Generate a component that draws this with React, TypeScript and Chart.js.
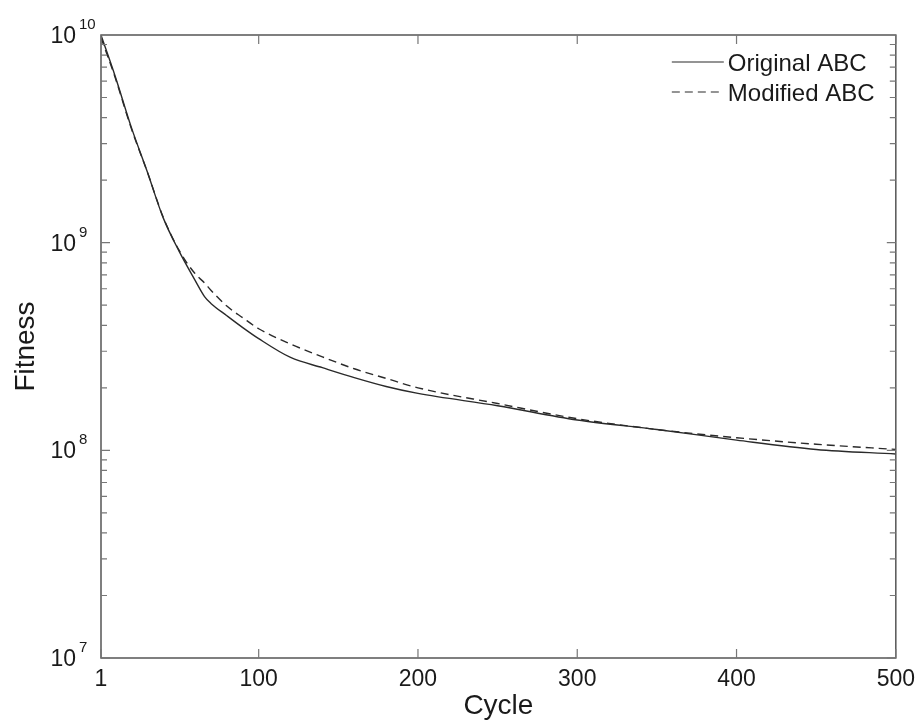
import React, { useEffect, useRef } from 'react';
import { Chart, registerables } from 'chart.js';
Chart.register(...registerables);

const CYCLES = [1, 10, 20, 30, 40, 50, 60, 66, 70, 80, 90, 100, 120, 140, 160, 180, 200, 250, 300, 350, 400, 450, 500];
const ORIGINAL = [1e10, 6.3e9, 3.6e9, 2.2e9, 1.32e9, 9.1e8, 6.6e8, 5.5e8, 5.1e8, 4.45e8, 3.9e8, 3.45e8, 2.8e8, 2.5e8, 2.24e8, 2.03e8, 1.88e8, 1.64e8, 1.40e8, 1.26e8, 1.12e8, 1.01e8, 9.6e7];
const MODIFIED = [9.7e9, 6.2e9, 3.55e9, 2.2e9, 1.33e9, 9.2e8, 7.1e8, 6.4e8, 5.9e8, 4.95e8, 4.35e8, 3.85e8, 3.25e8, 2.82e8, 2.47e8, 2.22e8, 2.0e8, 1.68e8, 1.42e8, 1.26e8, 1.15e8, 1.07e8, 1.01e8];
const SERIES_NAMES = ['Original ABC', 'Modified ABC'];
const X_TICKS = [1, 100, 200, 300, 400, 500];
const Y_EXPONENTS = [7, 8, 9, 10];
const X_TITLE = 'Cycle';
const Y_TITLE = 'Fitness';

const FONT = 'Liberation Sans, Arial, Helvetica, sans-serif';
const LINE_COLOR = '#2a2a2a';
const DASH = [8, 5];

const framePlugin = {
  id: 'frame',
  afterDatasetsDraw(chart: any) {
    const { ctx, chartArea: a, scales } = chart;
    const xs = scales.x;
    const ys = scales.y;
    ctx.save();
    ctx.strokeStyle = '#555';
    ctx.lineWidth = 1.5;
    ctx.strokeRect(a.left, a.top, a.right - a.left, a.bottom - a.top);
    ctx.lineWidth = 1.2;
    ctx.strokeStyle = '#777';
    X_TICKS.forEach((v) => {
      const px = xs.getPixelForValue(v);
      ctx.beginPath();
      ctx.moveTo(px, a.bottom);
      ctx.lineTo(px, a.bottom - 9);
      ctx.moveTo(px, a.top);
      ctx.lineTo(px, a.top + 9);
      ctx.stroke();
    });
    for (let e = Y_EXPONENTS[0]; e < Y_EXPONENTS[Y_EXPONENTS.length - 1]; e++) {
      for (let m = 1; m <= 9; m++) {
        const py = ys.getPixelForValue(m * Math.pow(10, e));
        const len = m === 1 ? 9 : 6;
        ctx.beginPath();
        ctx.moveTo(a.left, py);
        ctx.lineTo(a.left + len, py);
        ctx.moveTo(a.right, py);
        ctx.lineTo(a.right - len, py);
        ctx.stroke();
      }
    }
    ctx.fillStyle = '#1a1a1a';
    Y_EXPONENTS.forEach((e) => {
      const py = ys.getPixelForValue(Math.pow(10, e));
      ctx.font = `23px ${FONT}`;
      ctx.textAlign = 'right';
      ctx.textBaseline = 'alphabetic';
      ctx.fillText('10', a.left - 25, py + 8);
      ctx.font = `15px ${FONT}`;
      ctx.textAlign = 'left';
      ctx.fillText(String(e), a.left - 22, py - 6);
    });
    const lx0 = a.right - 224;
    const lx1 = a.right - 172;
    const rows = [a.top + 27, a.top + 57];
    ctx.font = `24px ${FONT}`;
    ctx.textAlign = 'left';
    ctx.textBaseline = 'alphabetic';
    SERIES_NAMES.forEach((name, i) => {
      const y = rows[i];
      ctx.strokeStyle = LINE_COLOR;
      ctx.lineWidth = 1.2;
      ctx.setLineDash(i === 1 ? DASH : []);
      ctx.beginPath();
      ctx.moveTo(lx0, y);
      ctx.lineTo(lx1, y);
      ctx.stroke();
      ctx.setLineDash([]);
      ctx.fillStyle = '#1a1a1a';
      ctx.fillText(name, lx1 + 4, y + 9);
    });
    ctx.restore();
  },
};

export default function App() {
  const ref = useRef<HTMLCanvasElement>(null);
  useEffect(() => {
    if (!ref.current) return;
    const chart = new Chart(ref.current, {
      type: 'line',
      data: {
        datasets: [
          {
            label: SERIES_NAMES[0],
            data: CYCLES.map((c, i) => ({ x: c, y: ORIGINAL[i] })),
            borderColor: LINE_COLOR,
            borderWidth: 1.4,
            pointRadius: 0,
            cubicInterpolationMode: 'monotone',
            fill: false,
          },
          {
            label: SERIES_NAMES[1],
            data: CYCLES.map((c, i) => ({ x: c, y: MODIFIED[i] })),
            borderColor: LINE_COLOR,
            borderWidth: 1.4,
            borderDash: DASH,
            pointRadius: 0,
            cubicInterpolationMode: 'monotone',
            fill: false,
          },
        ],
      },
      options: {
        responsive: false,
        animation: false,
        layout: { padding: { left: 0, top: 35, right: 26, bottom: 0 } },
        plugins: { legend: { display: false }, tooltip: { enabled: false } },
        scales: {
          x: {
            type: 'linear',
            min: 1,
            max: 500,
            afterBuildTicks: (s: any) => {
              s.ticks = X_TICKS.map((v) => ({ value: v }));
            },
            afterFit: (s: any) => {
              s.height = 67;
            },
            grid: { display: false, drawTicks: false },
            border: { display: false },
            ticks: {
              padding: 8,
              color: '#1a1a1a',
              font: { family: FONT, size: 23 },
              maxRotation: 0,
              autoSkip: false,
              callback: (v: any) => String(v),
            },
            title: {
              display: true,
              text: X_TITLE,
              color: '#1a1a1a',
              font: { family: FONT, size: 28 },
              padding: { top: 0, bottom: 2 },
            },
          },
          y: {
            type: 'logarithmic',
            min: Math.pow(10, Y_EXPONENTS[0]),
            max: Math.pow(10, Y_EXPONENTS[Y_EXPONENTS.length - 1]),
            afterBuildTicks: (s: any) => {
              s.ticks = Y_EXPONENTS.map((e) => ({ value: Math.pow(10, e) }));
            },
            afterFit: (s: any) => {
              s.width = 101;
            },
            grid: { display: false, drawTicks: false },
            border: { display: false },
            ticks: { callback: () => '' },
            title: {
              display: true,
              text: Y_TITLE,
              color: '#1a1a1a',
              font: { family: FONT, size: 28 },
              padding: { top: 9, bottom: 0 },
            },
          },
        },
      },
      plugins: [framePlugin],
    });
    return () => chart.destroy();
  }, []);
  return (
    <div style={{ position: 'absolute', left: 0, top: 0, width: 923, height: 725, background: '#fff' }}>
      <canvas ref={ref} width={923} height={725} />
    </div>
  );
}
